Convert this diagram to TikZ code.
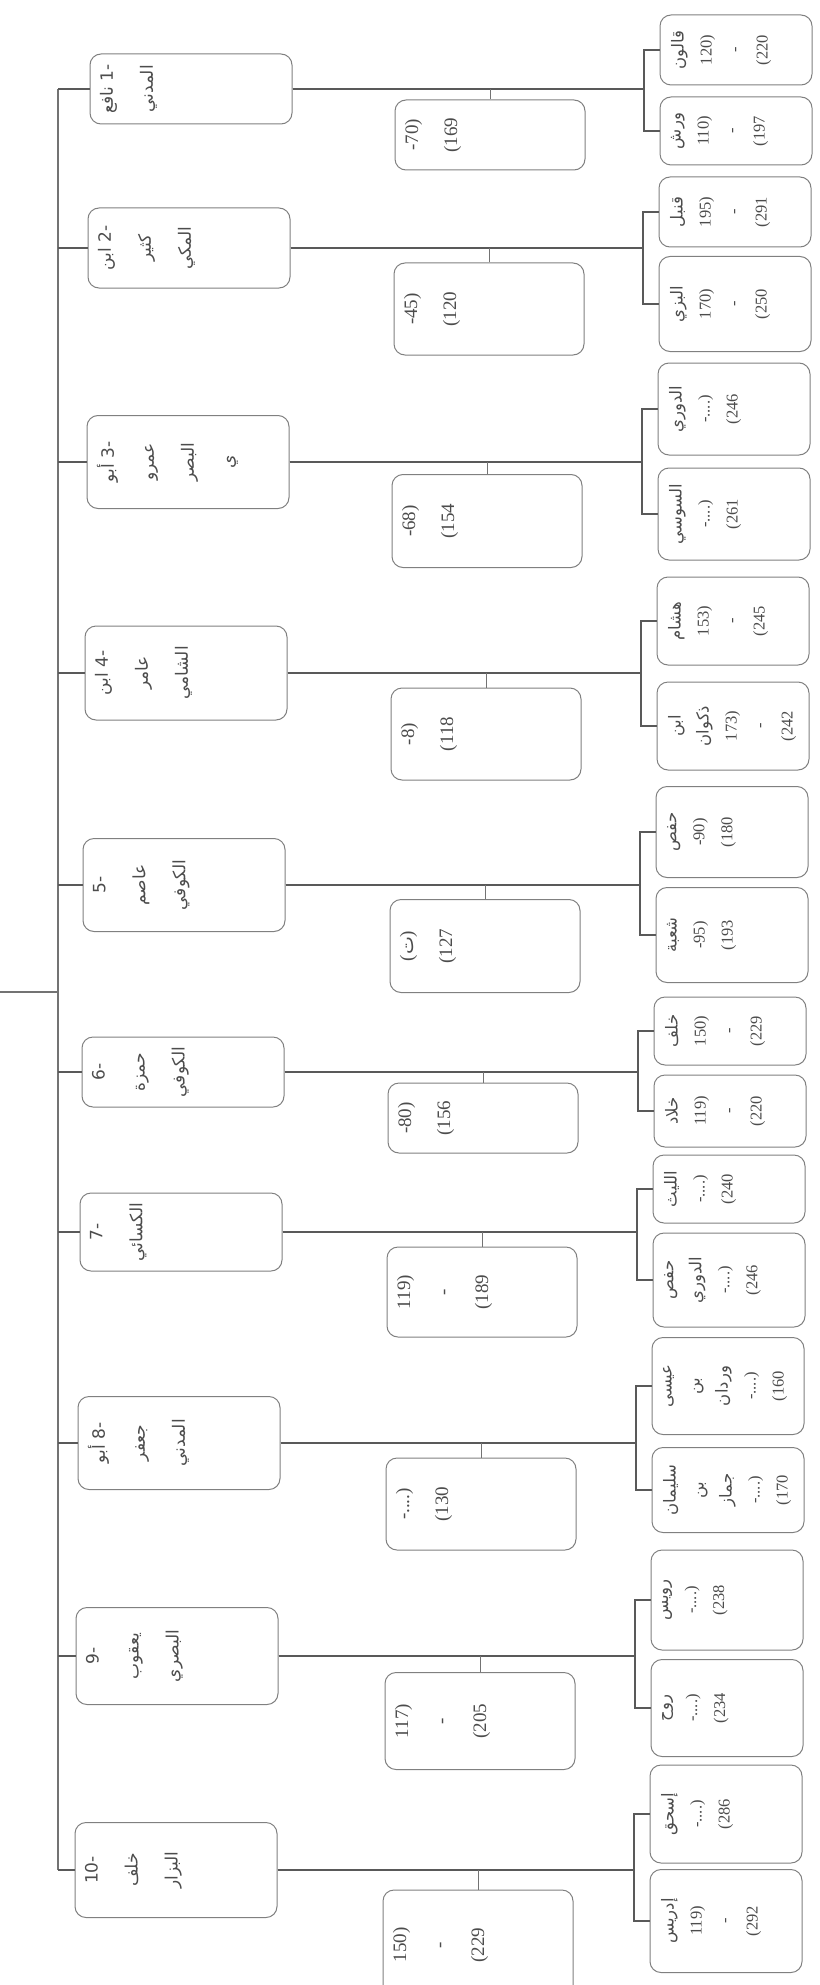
\documentclass[tikz,border=0pt]{standalone}
\usepackage{fontspec}
\setmainfont{Liberation Serif}
\newfontfamily\arabicfont[Script=Arabic]{DejaVu Sans}
\TeXXeTstate=1
\usepackage{tikz}

\newcommand{\ar}[1]{{\arabicfont\beginR #1\endR}}
\newcommand{\rtext}[2]{\parbox[c][202pt][t]{#1pt}{\centering\fontsize{17}{40}\selectfont\vspace*{10pt}#2}}
\newcommand{\dtext}[2]{\parbox[c][190pt][t]{#1pt}{\centering\fontsize{19}{39}\selectfont\vspace*{10pt}#2}}
\newcommand{\ntext}[2]{\parbox[c][152pt][t]{#1pt}{\centering\fontsize{16.5}{28}\selectfont\vspace*{11pt}#2}}

\tikzset{
  qbox/.style={draw=black!50, line width=1pt, rounded corners=11pt, rotate=90, inner sep=0pt, text=black!70},
  link/.style={draw=black!65, line width=2pt},
  bus/.style={draw=black!55, line width=1.3pt},
  tick/.style={draw=black!55, line width=0.8pt}
}

\begin{document}
\begin{tikzpicture}[x=1pt, y=-1pt]
            \useasboundingbox (0,0) rectangle (819,1985);
            \coordinate (bus) at (58,0);
            \coordinate (root) at (0,992);

            \node[qbox] (r1) at (191,89) {\rtext{70}{\ar{-1 نافع}\\ \ar{المدني}}};
            \node[qbox] (r2) at (189,248) {\rtext{80}{\ar{-2 ابن}\\ \ar{كثير}\\ \ar{المكي}}};
            \node[qbox] (r3) at (188,462) {\rtext{93}{\ar{-3 أبو}\\ \ar{عمرو}\\ \ar{البصر}\\ \ar{ي}}};
            \node[qbox] (r4) at (186,673) {\rtext{94}{\ar{-4 ابن}\\ \ar{عامر}\\ \ar{الشامي}}};
            \node[qbox] (r5) at (184,885) {\rtext{93}{\ar{-5}\\ \ar{عاصم}\\ \ar{الكوفي}}};
            \node[qbox] (r6) at (183,1072) {\rtext{70}{\ar{-6}\\ \ar{حمزة}\\ \ar{الكوفي}}};
            \node[qbox] (r7) at (181,1232) {\rtext{78}{\ar{-7}\\ \ar{الكسائي}}};
            \node[qbox] (r8) at (179,1443) {\rtext{93}{\ar{-8 أبو}\\ \ar{جعفر}\\ \ar{المدني}}};
            \node[qbox] (r9) at (177,1656) {\rtext{97}{\ar{-9}\\ \ar{يعقوب}\\ \ar{البصري}}};
            \node[qbox] (r10) at (176,1870) {\rtext{95}{\ar{-10}\\ \ar{خلف}\\ \ar{البزار}}};

            \node[qbox] (d1) at (490,135) {\dtext{70}{-70)\\ (169}};
            \node[qbox] (d2) at (489,309) {\dtext{92}{-45)\\ (120}};
            \node[qbox] (d3) at (487,521) {\dtext{93}{-68)\\ (154}};
            \node[qbox] (d4) at (486,734) {\dtext{92}{-8)\\ (118}};
            \node[qbox] (d5) at (485,946) {\dtext{93}{(\ar{ت})\\ (127}};
            \node[qbox] (d6) at (483,1118) {\dtext{70}{-80)\\ (156}};
            \node[qbox] (d7) at (482,1292) {\dtext{90}{119)\\ -\\ (189}};
            \node[qbox] (d8) at (481,1504) {\dtext{92}{-....)\\ (130}};
            \node[qbox] (d9) at (480,1721) {\dtext{97}{117)\\ -\\ (205}};
            \node[qbox] (d10) at (478,1945) {\dtext{110}{150)\\ -\\ (229}};

            \node[qbox] (na1) at (736,50) {\ntext{70}{\ar{قالون}\\ 120)\\ -\\ (220}};
            \node[qbox] (nb1) at (736,131) {\ntext{68}{\ar{ورش}\\ 110)\\ -\\ (197}};
            \node[qbox] (na2) at (735,212) {\ntext{70}{\ar{قنبل}\\ 195)\\ -\\ (291}};
            \node[qbox] (nb2) at (735,304) {\ntext{95}{\ar{البزي}\\ 170)\\ -\\ (250}};
            \node[qbox] (na3) at (734,409) {\ntext{92}{\ar{الدوري}\\ -....)\\ (246}};
            \node[qbox] (nb3) at (734,514) {\ntext{92}{\ar{السوسي}\\ -....)\\ (261}};
            \node[qbox] (na4) at (733,621) {\ntext{88}{\ar{هشام}\\ 153)\\ -\\ (245}};
            \node[qbox] (nb4) at (733,726) {\ntext{88}{\ar{ابن}\\ \ar{ذكوان}\\ 173)\\ -\\ (242}};
            \node[qbox] (na5) at (732,832) {\ntext{91}{\ar{حفص}\\ -90)\\ (180}};
            \node[qbox] (nb5) at (732,935) {\ntext{95}{\ar{شعبة}\\ -95)\\ (193}};
            \node[qbox] (na6) at (730,1031) {\ntext{68}{\ar{خلف}\\ 150)\\ -\\ (229}};
            \node[qbox] (nb6) at (730,1111) {\ntext{72}{\ar{خلاد}\\ 119)\\ -\\ (220}};
            \node[qbox] (na7) at (729,1189) {\ntext{68}{\ar{الليث}\\ -....)\\ (240}};
            \node[qbox] (nb7) at (729,1280) {\ntext{94}{\ar{حفص}\\ \ar{الدوري}\\ -....)\\ (246}};
            \node[qbox] (na8) at (728,1386) {\ntext{97}{\ar{عيسى}\\ \ar{بن}\\ \ar{وردان}\\ -....)\\ (160}};
            \node[qbox] (nb8) at (728,1490) {\ntext{85}{\ar{سليمان}\\ \ar{بن}\\ \ar{جماز}\\ -....)\\ (170}};
            \node[qbox] (na9) at (727,1600) {\ntext{100}{\ar{رويس}\\ -....)\\ (238}};
            \node[qbox] (nb9) at (727,1708) {\ntext{97}{\ar{روح}\\ -....)\\ (234}};
            \node[qbox] (na10) at (726,1814) {\ntext{98}{\ar{إسحق}\\ -....)\\ (286}};
            \node[qbox] (nb10) at (726,1921) {\ntext{103}{\ar{إدريس}\\ 119)\\ -\\ (292}};

            \draw[bus] (root) -- (root -| bus);
            \draw[bus] (r1.north -| bus) -- (r10.north -| bus);
            \foreach \k in {1,...,10} {
              \draw[link] (r\k.north) -- (r\k.north -| bus);
              \draw[link] (r\k.south) -| ([xshift=-16pt]na\k.north) -- (na\k.north);
              \draw[link] (r\k.south) -| ([xshift=-16pt]nb\k.north) -- (nb\k.north);
              \draw[tick] (d\k.east) -- (d\k.east |- r\k.south);
            }
        \end{tikzpicture}
\end{document}
